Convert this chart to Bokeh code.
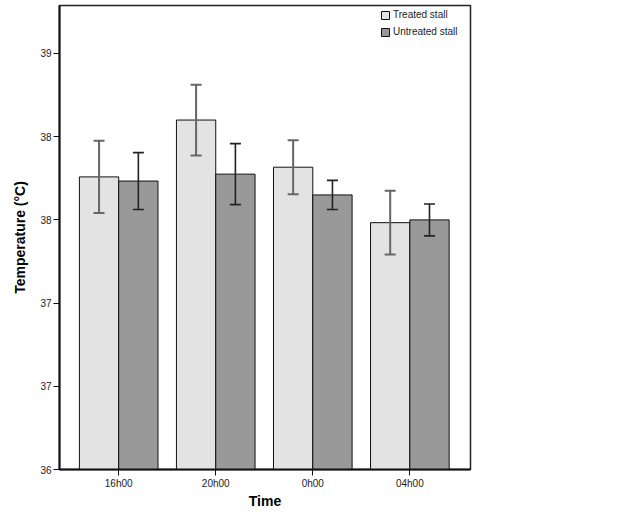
from bokeh.plotting import figure
from bokeh.models import ColumnDataSource, FixedTicker, NumeralTickFormatter, Whisker, TeeHead, Legend, LegendItem, Range1d
from bokeh.embed import file_html
from bokeh.resources import INLINE

times = ["16h00", "20h00", "0h00", "04h00"]
treated_mean = [38.11, 38.52, 38.18, 37.78]
treated_err = [0.26, 0.255, 0.195, 0.23]
untreated_mean = [38.08, 38.13, 37.98, 37.80]
untreated_err = [0.205, 0.22, 0.105, 0.115]
y_ticks = [36.0, 36.6, 37.2, 37.8, 38.4, 39.0]

pos = [1, 2, 3, 4]
w = 0.405
tx = [p_ - w / 2 for p_ in pos]
ux = [p_ + w / 2 for p_ in pos]

src_t = ColumnDataSource(dict(x=tx, top=treated_mean,
                              up=[m + e for m, e in zip(treated_mean, treated_err)],
                              lo=[m - e for m, e in zip(treated_mean, treated_err)]))
src_u = ColumnDataSource(dict(x=ux, top=untreated_mean,
                              up=[m + e for m, e in zip(untreated_mean, untreated_err)],
                              lo=[m - e for m, e in zip(untreated_mean, untreated_err)]))

p = figure(frame_width=411, frame_height=464, output_backend="svg", toolbar_location=None,
           x_range=Range1d(0.39, 4.625), y_range=Range1d(36.0, 39.346),
           min_border_left=59, min_border_top=5, min_border_bottom=43, min_border_right=20)
p.background_fill_color = "white"
p.xgrid.visible = False
p.ygrid.visible = False
p.outline_line_color = "#222222"
p.outline_line_width = 1.5

rt = p.vbar(x="x", top="top", bottom=36.0, width=w, source=src_t, fill_color="#e3e3e3",
            line_color="#111111", line_width=1)
ru = p.vbar(x="x", top="top", bottom=36.0, width=w, source=src_u, fill_color="#999999",
            line_color="#111111", line_width=1)

wt = Whisker(base="x", upper="up", lower="lo", source=src_t, line_color="#666666", line_width=2,
             level="overlay",
             upper_head=TeeHead(size=11, line_color="#666666", line_width=2),
             lower_head=TeeHead(size=11, line_color="#666666", line_width=2))
wu = Whisker(base="x", upper="up", lower="lo", source=src_u, line_color="#222222", line_width=1.6,
             level="overlay",
             upper_head=TeeHead(size=11, line_color="#222222", line_width=1.6),
             lower_head=TeeHead(size=11, line_color="#222222", line_width=1.6))
p.add_layout(wt)
p.add_layout(wu)

font = "Liberation Sans"
p.xaxis.ticker = FixedTicker(ticks=pos)
p.xaxis.major_label_overrides = {k: v for k, v in zip(pos, times)}
p.yaxis.ticker = FixedTicker(ticks=y_ticks)
p.yaxis.formatter = NumeralTickFormatter(format="0")
for ax in (p.xaxis, p.yaxis):
    ax.axis_line_color = "#111111"
    ax.axis_line_width = 2
    ax.major_tick_line_color = "#111111"
    ax.major_tick_line_width = 1
    ax.major_tick_out = 6
    ax.major_tick_in = 0
    ax.minor_tick_line_color = None
    ax.major_label_text_font = font
    ax.major_label_text_font_size = "10px"
    ax.major_label_text_color = "#222222"
    ax.axis_label_text_font = font
    ax.axis_label_text_font_size = "14px"
    ax.axis_label_text_font_style = "bold"
    ax.axis_label_text_color = "black"
p.xaxis.axis_label = "Time"
p.yaxis.axis_label = "Temperature (°C)"
p.xaxis.major_label_standoff = 2
p.yaxis.major_label_standoff = 2
p.xaxis.axis_label_standoff = 1
p.yaxis.axis_label_standoff = 9

legend = Legend(items=[LegendItem(label="Treated stall", renderers=[rt]),
                       LegendItem(label="Untreated stall", renderers=[ru])],
                location=(321, 432))
legend.margin = 0
legend.padding = 0
legend.spacing = 6
legend.glyph_width = 10
legend.glyph_height = 10
legend.label_height = 10
legend.label_standoff = 3
legend.label_text_font = font
legend.label_text_font_size = "10px"
legend.label_text_color = "#222222"
legend.border_line_color = None
legend.background_fill_alpha = 0
p.add_layout(legend)

open("out.html", "w").write(file_html(p, INLINE))
